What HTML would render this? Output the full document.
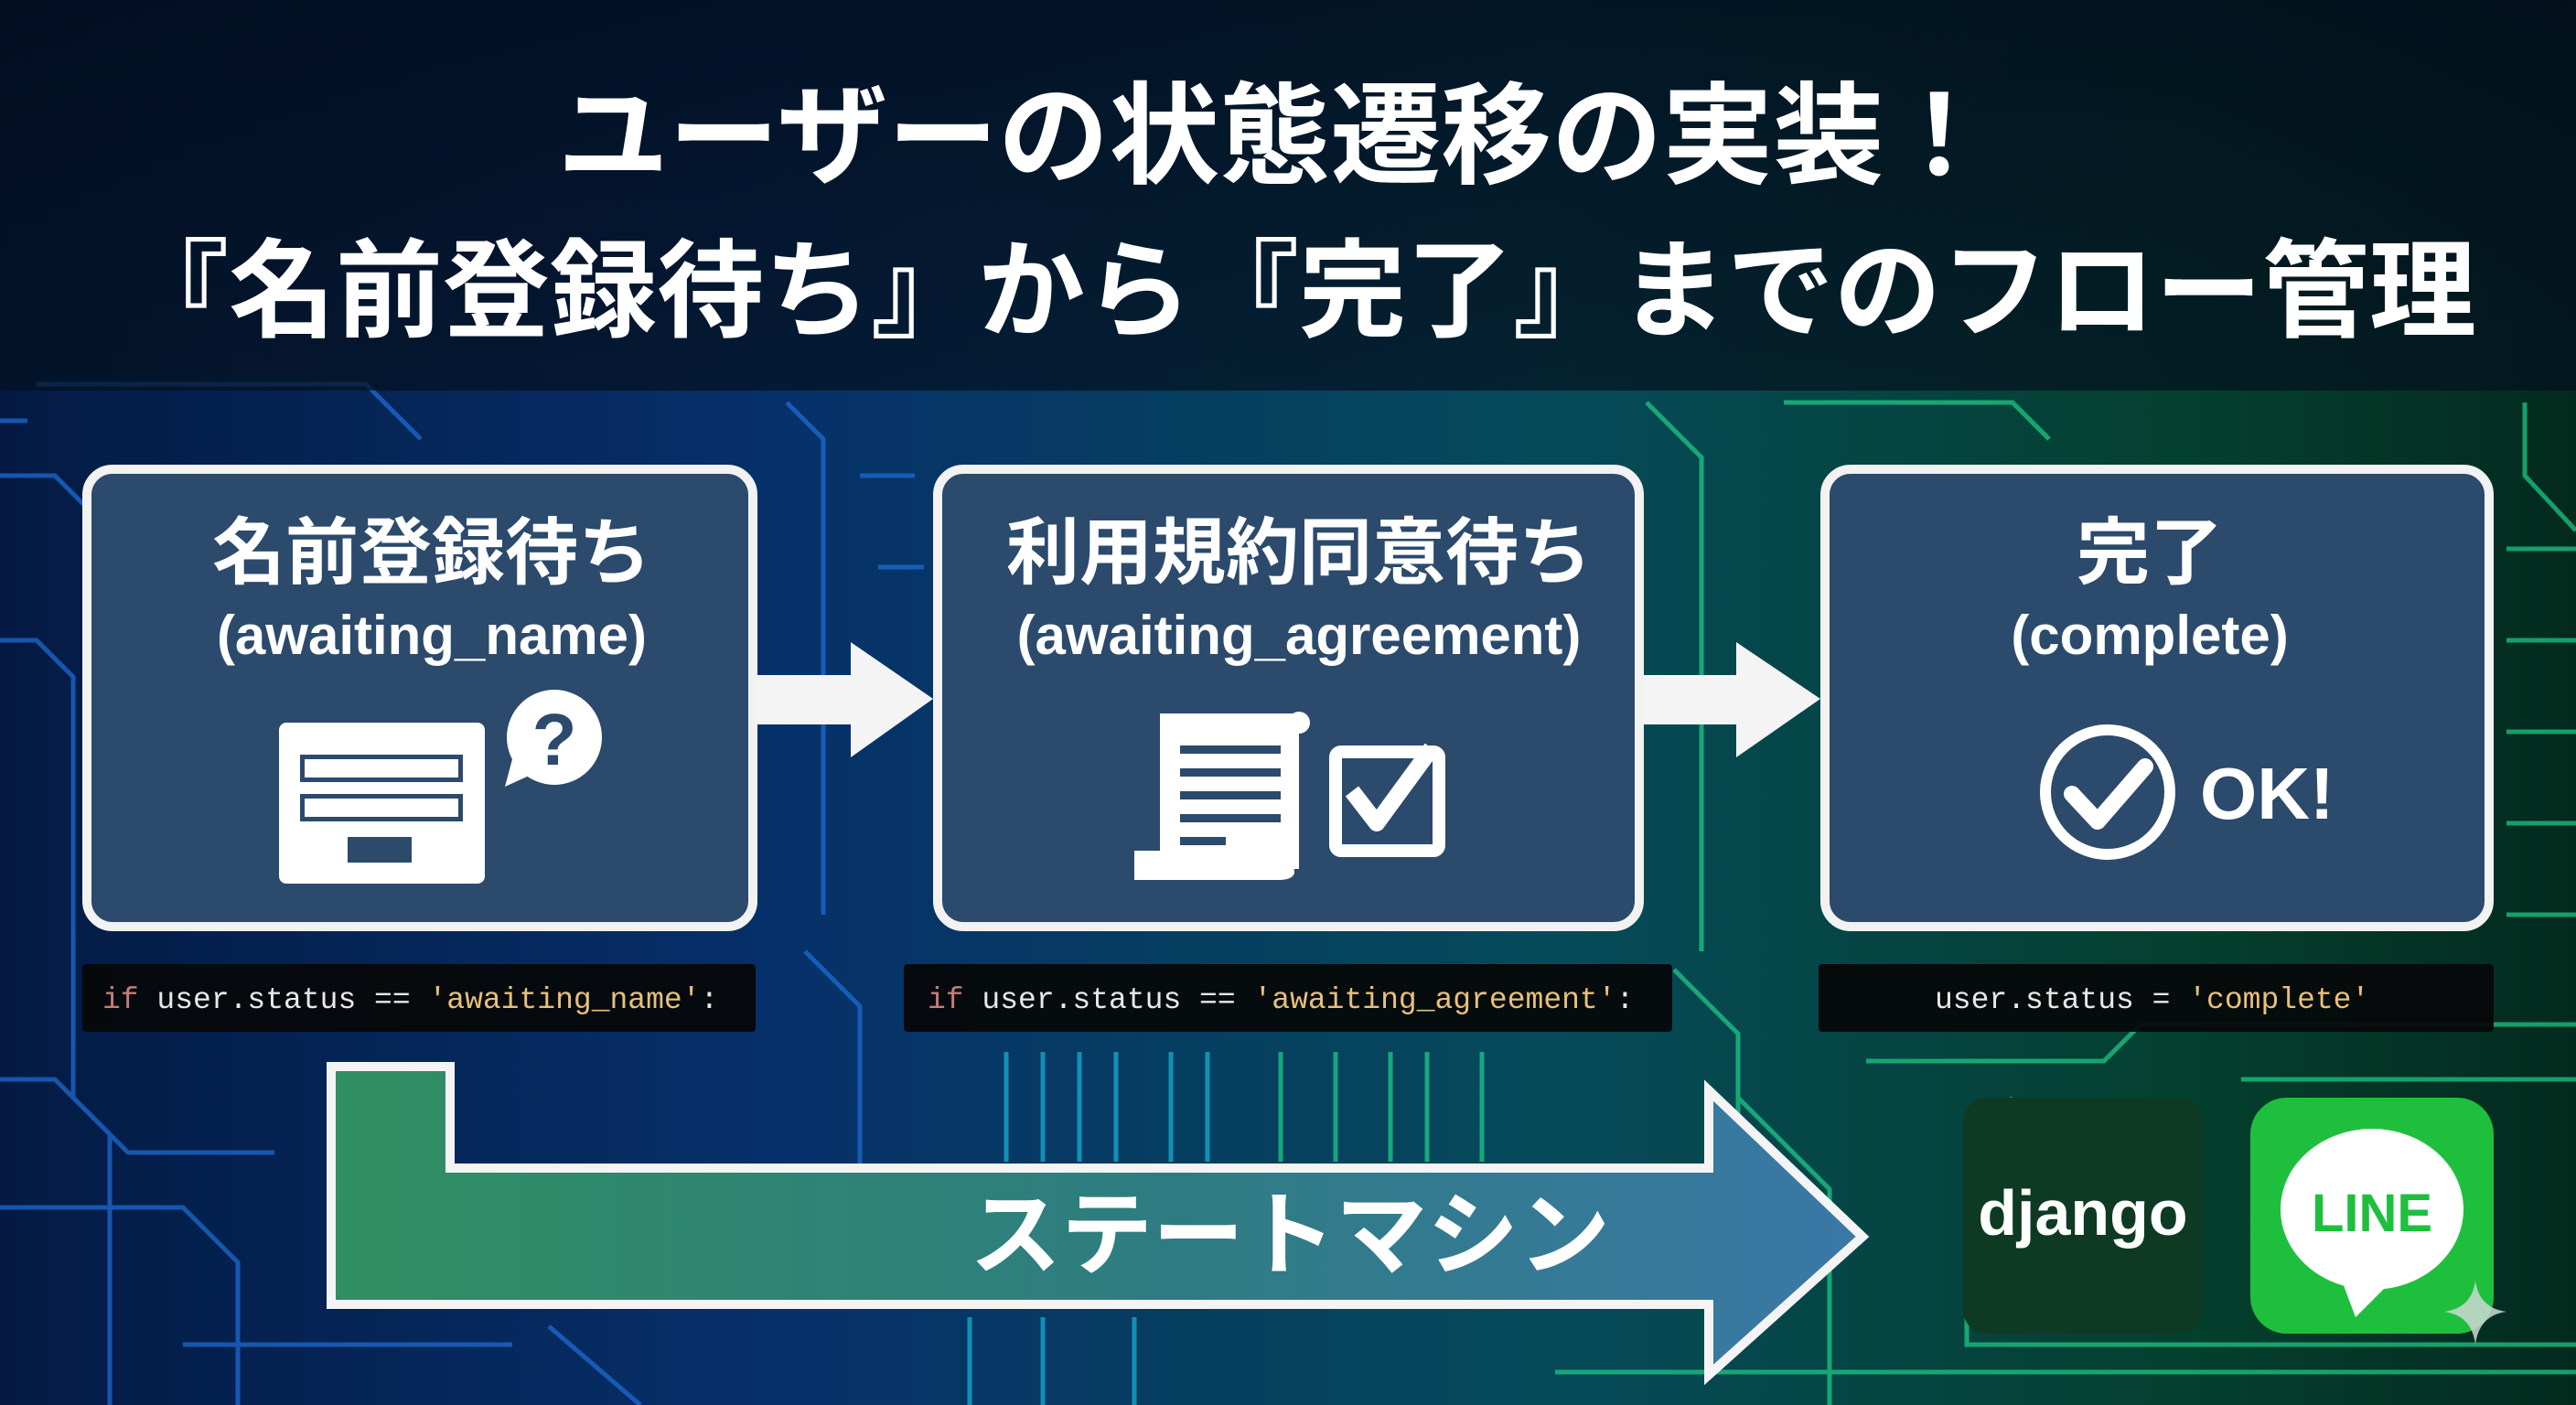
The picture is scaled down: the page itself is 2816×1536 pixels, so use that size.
<!DOCTYPE html>
<html><head><meta charset="utf-8"><style>
html,body{margin:0;padding:0}
body{width:2816px;height:1536px;overflow:hidden;position:relative;
background:linear-gradient(90deg,#041a44 0%,#06306a 30%,#064a5a 60%,#04402e 85%,#032a1e 100%);
font-family:"Liberation Sans","Noto Sans CJK JP",sans-serif;}
svg{position:absolute;left:0;top:0}
</style></head><body>
<svg width="2816" height="1536" viewBox="0 0 2816 1536">
<defs>
<linearGradient id="lg" x1="0" x2="1" y1="0" y2="0">
<stop offset="0" stop-color="#2f8f62"/><stop offset="0.55" stop-color="#2e7c82"/><stop offset="1" stop-color="#3a78a6"/></linearGradient>
<linearGradient id="band" x1="0" x2="0" y1="0" y2="1">
<stop offset="0" stop-color="#020c1c" stop-opacity="0.85"/><stop offset="1" stop-color="#03101e" stop-opacity="0.7"/></linearGradient>
</defs>
<g fill="none" stroke-width="5" opacity="0.7">
<g stroke="#1f6fd8">
<path d="M0 520 H60 L120 580 V1000"/><path d="M0 700 H40 L80 740 V1200 L140 1260 H300"/>
<path d="M0 1180 H60 L120 1240 V1536"/><path d="M0 1320 H200 L260 1380 V1536"/>
<path d="M860 440 L900 480 V1000"/><path d="M880 1040 L940 1100 V1300"/>
<path d="M600 1450 L700 1536"/><path d="M40 420 H400 L460 480"/>
<path d="M940 520 H1000"/><path d="M960 620 H1010"/>
<path d="M0 460 H30"/><path d="M200 1470 H560"/>
</g>
<g stroke="#18b4d8">
<path d="M1100 1150 V1270"/><path d="M1140 1150 V1270"/><path d="M1180 1150 V1270"/><path d="M1220 1150 V1270"/><path d="M1280 1150 V1270"/><path d="M1320 1150 V1270"/>
<path d="M1060 1440 V1536"/><path d="M1140 1440 V1536"/><path d="M1240 1440 V1536"/>
</g>
<g stroke="#1fd08a">
<path d="M1400 1150 V1270"/><path d="M1460 1150 V1270"/><path d="M1520 1150 V1270"/><path d="M1560 1150 V1270"/><path d="M1620 1150 V1270"/>
<path d="M1800 440 L1860 500 V1040"/><path d="M1830 1060 L1900 1130 V1300"/>
<path d="M2760 440 V520 L2816 580"/><path d="M2740 600 H2816"/><path d="M2740 700 H2816"/><path d="M2740 800 H2816"/><path d="M2740 900 H2816"/><path d="M2740 1000 H2816"/>
<path d="M2040 1160 H2300 L2340 1120 H2816"/><path d="M2200 1200 L2150 1260 V1470 H2816"/>
<path d="M1950 440 H2200 L2240 480"/><path d="M1700 1500 H2816"/><path d="M2450 1180 H2816"/>
<path d="M1900 1200 L2000 1300 V1536"/>
</g>
</g>
<rect x="0" y="0" width="2816" height="427" fill="url(#band)"/>
<g font-weight="bold" fill="#fff" text-anchor="middle" font-family="'Liberation Sans','Noto Sans CJK JP',sans-serif">
<text x="1395" y="191" font-size="121">ユーザーの状態遷移の実装！</text>
<text x="1420" y="359" font-size="117">『名前登録待ち』から『完了』までのフロー管理</text>
</g>
<g fill="#2b4a6c" stroke="#f2f2f2" stroke-width="10">
<rect x="95" y="513" width="728" height="500" rx="28"/>
<rect x="1025" y="513" width="767" height="500" rx="28"/>
<rect x="1995" y="513" width="726" height="500" rx="28"/>
</g>
<g fill="#f4f4f4">
<polygon points="828,738 930,738 930,702 1020,764 930,828 930,792 828,792"/>
<polygon points="1797,738 1898,738 1898,702 1990,764 1898,828 1898,792 1797,792"/>
</g>
<g fill="#fff" font-weight="bold" text-anchor="middle">
<text x="472" y="632" font-size="80">名前登録待ち</text>
<text x="472" y="715" font-size="60">(awaiting_name)</text>
<text x="1420" y="632" font-size="80">利用規約同意待ち</text>
<text x="1420" y="715" font-size="60">(awaiting_agreement)</text>
<text x="2350" y="632" font-size="80">完了</text>
<text x="2350" y="715" font-size="60">(complete)</text>
</g>
<rect x="305" y="790" width="225" height="176" rx="8" fill="#fff"/>
<rect x="328" y="825" width="178" height="30" fill="#2b4a6c"/><rect x="333" y="830" width="168" height="20" fill="#fff"/>
<rect x="328" y="868" width="178" height="30" fill="#2b4a6c"/><rect x="333" y="873" width="168" height="20" fill="#fff"/>
<rect x="380" y="915" width="70" height="28" fill="#2b4a6c"/>
<circle cx="606" cy="806" r="52" fill="#fff"/><polygon points="560,830 552,860 585,845" fill="#fff"/>
<text x="606" y="836" font-size="80" font-weight="bold" text-anchor="middle" fill="#2b4a6c">?</text>
<path d="M1268 780 H1420 V950 H1268 Z" fill="#fff"/>
<path d="M1240 930 H1400 Q1430 960 1400 962 H1240 Z" fill="#fff"/>
<circle cx="1420" cy="790" r="12" fill="#fff"/>
<g fill="#2b4a6c"><rect x="1290" y="815" width="110" height="9"/><rect x="1290" y="840" width="110" height="9"/><rect x="1290" y="865" width="110" height="9"/><rect x="1290" y="890" width="110" height="9"/><rect x="1290" y="915" width="50" height="9"/></g>
<rect x="1460" y="822" width="113" height="108" rx="6" fill="none" stroke="#fff" stroke-width="14"/>
<polyline points="1478,865 1505,900 1565,818" fill="none" stroke="#fff" stroke-width="18" stroke-linejoin="round"/>
<circle cx="2304" cy="866" r="68" fill="none" stroke="#fff" stroke-width="12"/>
<polyline points="2265,868 2293,898 2345,838" fill="none" stroke="#fff" stroke-width="18" stroke-linecap="round" stroke-linejoin="round"/>
<text x="2405" y="895" font-size="80" font-weight="bold" fill="#fff">OK!</text>
<g fill="#06080a" opacity="0.95">
<rect x="90" y="1054" width="736" height="74" rx="4"/>
<rect x="988" y="1054" width="840" height="74" rx="4"/>
<rect x="1988" y="1054" width="738" height="74" rx="4"/>
</g>
<g font-family="'Liberation Mono',monospace" font-size="33" fill="#e8e8e8">
<text x="112" y="1102"><tspan fill="#c77b7b">if</tspan> user.status == <tspan fill="#e6c07b">'awaiting_name'</tspan>:</text>
<text x="1014" y="1102"><tspan fill="#c77b7b">if</tspan> user.status == <tspan fill="#e6c07b">'awaiting_agreement'</tspan>:</text>
<text x="2115" y="1102">user.status = <tspan fill="#e6c07b">'complete'</tspan></text>
</g>
<polygon points="362,1166 492,1166 492,1277 1868,1277 1868,1192 2036,1352 1868,1503 1868,1426 362,1426" fill="url(#lg)" stroke="#f4f4f4" stroke-width="10" stroke-linejoin="miter"/>
<text x="1410" y="1385" font-size="100" font-weight="bold" fill="#fff" text-anchor="middle">ステートマシン</text>
<rect x="2146" y="1200" width="262" height="258" rx="26" fill="#0e3a24"/>
<text x="2277" y="1350" font-size="70" font-weight="bold" fill="#fff" text-anchor="middle">django</text>
<rect x="2460" y="1200" width="266" height="258" rx="40" fill="#1fbf3e"/>
<ellipse cx="2593" cy="1322" rx="100" ry="88" fill="#fff"/>
<polygon points="2560,1400 2575,1440 2610,1405" fill="#fff"/>
<text x="2593" y="1346" font-size="58" font-weight="bold" fill="#1fbf3e" text-anchor="middle">LINE</text>
<path d="M2706 1400 Q2710 1430 2740 1434 Q2710 1438 2706 1470 Q2702 1438 2672 1434 Q2702 1430 2706 1400Z" fill="#cfd8d4" opacity="0.85"/>
</svg>
</body></html>
